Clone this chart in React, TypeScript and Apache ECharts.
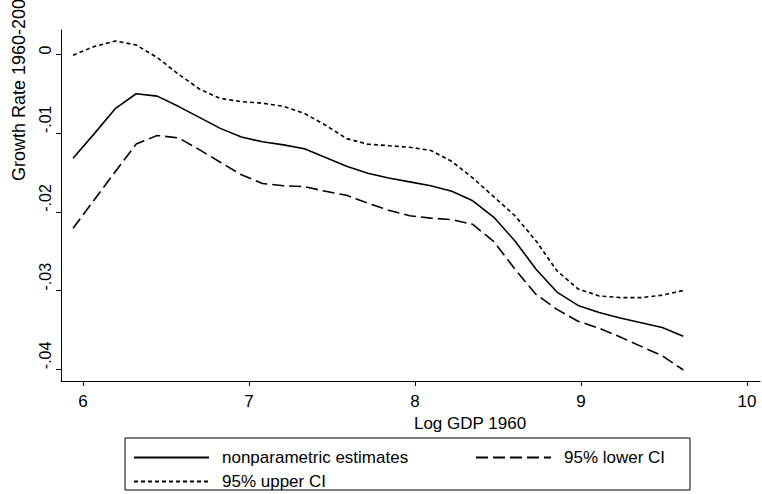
import { useEffect, useRef } from "react";
import * as echarts from "echarts";

const logGdp = [
  5.94, 6.067, 6.194, 6.32, 6.447, 6.574, 6.701, 6.827, 6.954, 7.081,
  7.208, 7.334, 7.461, 7.588, 7.715, 7.841, 7.968, 8.095, 8.222, 8.348,
  8.475, 8.602, 8.729, 8.855, 8.982, 9.109, 9.236, 9.362, 9.489, 9.616,
];
const estimate = [
  -0.0132, -0.0101, -0.0069, -0.005, -0.0053, -0.0066, -0.008, -0.0094, -0.0105, -0.0111,
  -0.0115, -0.012, -0.0131, -0.0142, -0.0151, -0.0157, -0.0162, -0.0167, -0.0174, -0.0186,
  -0.0207, -0.0237, -0.0273, -0.0302, -0.0319, -0.0328, -0.0335, -0.0341, -0.0347, -0.0358,
];
const lowerCI = [
  -0.0221, -0.0185, -0.0149, -0.0114, -0.0103, -0.0106, -0.0121, -0.0137, -0.0153, -0.0164,
  -0.0167, -0.0168, -0.0174, -0.0179, -0.0189, -0.0198, -0.0205, -0.0208, -0.021, -0.0216,
  -0.0238, -0.0273, -0.0305, -0.0324, -0.0339, -0.0348, -0.0359, -0.0371, -0.0383, -0.0401,
];
const upperCI = [
  -0.0001, 0.001, 0.0017, 0.0012, -0.0004, -0.0025, -0.0044, -0.0056, -0.006, -0.0062,
  -0.0066, -0.0075, -0.009, -0.0107, -0.0114, -0.0116, -0.0118, -0.0122, -0.0136, -0.0157,
  -0.0181, -0.0205, -0.0237, -0.0275, -0.0298, -0.0307, -0.0309, -0.0309, -0.0306, -0.03,
];
const xTicks = [6, 7, 8, 9, 10];
const yTicks = [0, -0.01, -0.02, -0.03, -0.04];
const yTickLabels = ["0", "-.01", "-.02", "-.03", "-.04"];
const seriesNames = ["nonparametric estimates", "95% lower CI", "95% upper CI"];
const xTitle = "Log GDP 1960";
const yTitle = "Growth Rate 1960-2000";

const FONT = "'Liberation Sans', Arial, Helvetica, sans-serif";

export default function App() {
  const ref = useRef<HTMLDivElement>(null);
  useEffect(() => {
    if (!ref.current) return;
    const chart = echarts.init(ref.current, null, { renderer: "svg" });
    const pairs = (ys: number[]) => logGdp.map((x, i) => [x, ys[i]]);
    const styles: any[] = [
      { type: "solid", width: 1.6 },
      { type: [12, 5], width: 1.6 },
      { type: [4, 3], width: 1.6 },
    ];
    const values = [estimate, lowerCI, upperCI];
    const legendBase = {
      itemWidth: 75,
      itemHeight: 14,
      padding: 5,
      itemStyle: { opacity: 0 },
      textStyle: { fontFamily: FONT, fontSize: 17, color: "#000", padding: [0, 0, 0, 8] },
      selectedMode: false,
    };
    chart.setOption({
      animation: false,
      backgroundColor: "#fff",
      textStyle: { fontFamily: FONT },
      grid: { left: 61, top: 30, width: 699, height: 351, containLabel: false },
      xAxis: {
        type: "value",
        min: 5.8675,
        max: 10.078,
        axisLine: { show: true, onZero: false, lineStyle: { color: "#000", width: 1 } },
        axisTick: { show: true, customValues: xTicks, length: 5, lineStyle: { color: "#000" } },
        axisLabel: {
          customValues: xTicks,
          fontFamily: FONT,
          fontSize: 17,
          color: "#000",
          margin: 12,
        },
        splitLine: { show: false },
      },
      yAxis: {
        type: "value",
        min: -0.0415,
        max: 0.0031,
        axisLine: { show: true, onZero: false, lineStyle: { color: "#000", width: 1 } },
        axisTick: { show: true, customValues: yTicks, length: 5, lineStyle: { color: "#000" } },
        axisLabel: {
          customValues: yTicks,
          rotate: 90,
          align: "left",
          verticalAlign: "bottom",
          fontFamily: FONT,
          fontSize: 16,
          color: "#000",
          margin: 8,
          formatter: (v: number) => {
            const i = yTicks.findIndex((t) => Math.abs(t - v) < 1e-9);
            return i >= 0 ? yTickLabels[i] : "";
          },
        },
        splitLine: { show: false },
      },
      legend: [
        { ...legendBase, data: [seriesNames[0]], left: 128, top: 444 },
        { ...legendBase, data: [seriesNames[1]], left: 470, top: 444 },
        { ...legendBase, data: [seriesNames[2]], left: 128, top: 468 },
      ],
      series: seriesNames.map((name, i) => ({
        name,
        type: "line",
        data: pairs(values[i]),
        symbol: "none",
        smooth: false,
        color: "#000",
        lineStyle: { color: "#000", ...styles[i] },
      })),
      graphic: [
        {
          type: "rect",
          shape: { x: 125, y: 438, width: 565, height: 52 },
          style: { fill: "none", stroke: "#000", lineWidth: 1 },
          silent: true,
        },
        {
          type: "text",
          x: 470,
          y: 423,
          style: {
            text: xTitle,
            fontFamily: FONT,
            fontSize: 17,
            fill: "#000",
            textAlign: "center",
            textVerticalAlign: "middle",
          },
        },
        {
          type: "text",
          x: 19,
          y: 181,
          rotation: Math.PI / 2,
          style: {
            text: yTitle,
            fontFamily: FONT,
            fontSize: 18,
            fill: "#000",
            textAlign: "left",
            textVerticalAlign: "middle",
          },
        },
      ],
    });
    return () => chart.dispose();
  }, []);
  return <div ref={ref} style={{ width: 762, height: 494, position: "absolute", left: 0, top: 0 }} />;
}
